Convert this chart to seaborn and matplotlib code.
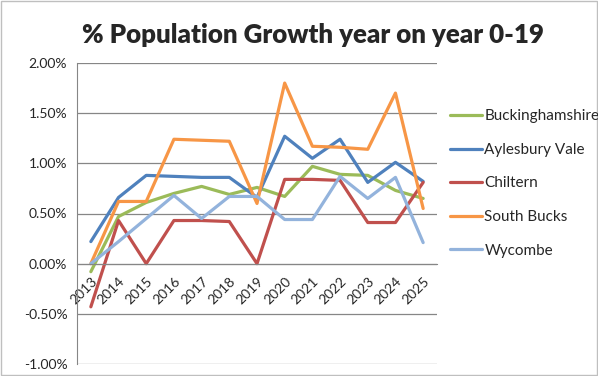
import matplotlib
matplotlib.use("Agg")
import matplotlib.pyplot as plt
import numpy as np
import pandas as pd
import seaborn as sns
from matplotlib.ticker import FuncFormatter, FixedLocator

YEARS = ["2013", "2014", "2015", "2016", "2017", "2018", "2019",
         "2020", "2021", "2022", "2023", "2024", "2025"]
REGIONS = ["Buckinghamshire", "Aylesbury Vale", "Chiltern", "South Bucks", "Wycombe"]

buckinghamshire = [-0.08, 0.47, 0.61, 0.70, 0.77, 0.69, 0.76, 0.67, 0.97, 0.89, 0.88, 0.73, 0.65]
aylesbury_vale = [0.22, 0.66, 0.88, 0.87, 0.86, 0.86, 0.66, 1.27, 1.05, 1.24, 0.81, 1.01, 0.82]
chiltern = [-0.43, 0.43, 0.00, 0.43, 0.43, 0.42, 0.00, 0.84, 0.84, 0.83, 0.41, 0.41, 0.81]
south_bucks = [0.00, 0.62, 0.62, 1.24, 1.23, 1.22, 0.60, 1.80, 1.17, 1.16, 1.14, 1.70, 0.55]
wycombe = [0.00, 0.22, 0.45, 0.68, 0.45, 0.67, 0.67, 0.44, 0.44, 0.87, 0.65, 0.86, 0.21]

COLORS = ["#9BBB59", "#4F81BD", "#C0504D", "#F79646", "#93B3DC"]

series = [buckinghamshire, aylesbury_vale, chiltern, south_bucks, wycombe]
rows = []
for name, vals in zip(REGIONS, series):
    for i, v in enumerate(vals):
        rows.append({"pos": i, "Year": YEARS[i], "Region": name, "Growth": v})
df = pd.DataFrame(rows)

sns.set_style("white")
plt.rcParams["font.family"] = ["Lato", "DejaVu Sans"]

fig = plt.figure(figsize=(5.98, 3.76), dpi=100)
ax = fig.add_axes([77 / 598, 1 - 364 / 376, 360 / 598, 301 / 376])

sns.lineplot(data=df, x="pos", y="Growth", hue="Region", hue_order=REGIONS,
             palette=COLORS, linewidth=2.3, ax=ax, legend=True)

grid_c = "#868686"
ax.set_xlim(-0.5, len(YEARS) - 0.5)
ax.set_ylim(-1.0, 2.0)
ax.set_yticks(np.arange(-1.0, 2.01, 0.5))
ax.yaxis.set_major_formatter(FuncFormatter(lambda v, p: "%.2f%%" % v))
ax.yaxis.grid(True, color=grid_c, linewidth=0.9)
ax.set_axisbelow(True)
ax.tick_params(axis="y", length=4, color=grid_c, labelsize=10, pad=3)

ax.spines["top"].set_visible(False)
ax.spines["right"].set_visible(False)
ax.spines["left"].set_color(grid_c)
ax.spines["bottom"].set_color(grid_c)
ax.spines["bottom"].set_position(("data", 0))

ax.set_xticks(range(len(YEARS)))
ax.set_xticklabels(YEARS, rotation=45, ha="right", rotation_mode="anchor", fontsize=10)
ax.xaxis.set_minor_locator(FixedLocator(np.arange(-0.5, len(YEARS), 1.0)))
ax.tick_params(axis="x", which="major", length=0, pad=8)
ax.tick_params(axis="x", which="minor", length=5, color=grid_c, direction="out")
ax.set_xlabel("")
ax.set_ylabel("")

handles, labels = ax.get_legend_handles_labels()
ax.legend_.remove()
fig.legend(handles, labels, loc="center left", bbox_to_anchor=(450 / 598, 1 - 183.5 / 376),
           frameon=False, fontsize=11, labelspacing=1.28, handlelength=2.1,
           handletextpad=0.15, borderpad=0, borderaxespad=0)

fig.suptitle("% Population Growth year on year 0-19", x=0.523, y=1 - 35 / 376, va="center",
             fontsize=18.6, fontweight="heavy")

fig.patches.append(plt.Rectangle((0.002, 0.002), 0.996, 0.996, transform=fig.transFigure,
                                 fill=False, edgecolor="#BFBFBF", linewidth=1))

fig.savefig("out.png", dpi=100)
plt.close(fig)
